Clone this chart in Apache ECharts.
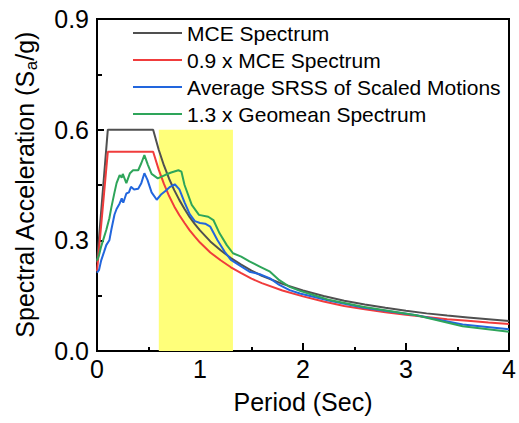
<!DOCTYPE html>
<html>
<head>
<meta charset="utf-8">
<script src="https://cdn.jsdelivr.net/npm/echarts@6/dist/echarts.min.js"></script>
<style>
  html, body { margin: 0; padding: 0; background: #fff; }
  #chart { width: 519px; height: 423px; }
</style>
</head>
<body>
<div id="chart"></div>
<script>
// Design spectra (MCE and 0.9 x MCE), sampled along period in seconds
const mceT  = [0, 0.105, 0.545, 0.6, 0.65, 0.7, 0.75, 0.8, 0.85, 0.9, 0.95, 1.0, 1.1, 1.2, 1.3, 1.4, 1.5, 1.6, 1.8, 2.0, 2.2, 2.4, 2.6, 2.8, 3.0, 3.2, 3.4, 3.6, 3.8, 4.0];
const mceSa = [0.24, 0.6, 0.6, 0.545, 0.503, 0.467, 0.436, 0.409, 0.385, 0.363, 0.344, 0.327, 0.297, 0.273, 0.252, 0.234, 0.218, 0.204, 0.182, 0.164, 0.149, 0.136, 0.126, 0.117, 0.109, 0.102, 0.096, 0.091, 0.086, 0.081];
const mce90Sa = [0.216, 0.54, 0.54, 0.491, 0.453, 0.420, 0.392, 0.368, 0.347, 0.327, 0.310, 0.294, 0.267, 0.246, 0.227, 0.211, 0.196, 0.184, 0.164, 0.148, 0.134, 0.122, 0.113, 0.105, 0.098, 0.092, 0.086, 0.082, 0.077, 0.073];

// Average SRSS spectrum of the scaled ground motions
const srssT  = [0, 0.02, 0.04, 0.07, 0.09, 0.12, 0.14, 0.17, 0.19, 0.22, 0.24, 0.255, 0.285, 0.31, 0.33, 0.36, 0.40, 0.43, 0.46, 0.49, 0.53, 0.58, 0.625, 0.67, 0.71, 0.755, 0.80, 0.85, 0.90, 0.95, 1.0, 1.05, 1.1, 1.17, 1.24, 1.30, 1.40, 1.48, 1.58, 1.68, 1.77, 1.87, 1.97, 2.1, 2.26, 2.58, 3.1, 3.55, 4.0];
const srssSa = [0.212, 0.22, 0.245, 0.27, 0.287, 0.30, 0.33, 0.37, 0.385, 0.40, 0.414, 0.402, 0.427, 0.43, 0.445, 0.438, 0.44, 0.455, 0.482, 0.464, 0.43, 0.41, 0.425, 0.435, 0.445, 0.452, 0.438, 0.403, 0.371, 0.352, 0.347, 0.345, 0.337, 0.30, 0.269, 0.247, 0.229, 0.215, 0.208, 0.197, 0.179, 0.165, 0.156, 0.147, 0.136, 0.118, 0.097, 0.072, 0.059];

// 1.3 x geometric-mean spectrum
const geoT  = [0, 0.02, 0.04, 0.07, 0.09, 0.12, 0.14, 0.17, 0.19, 0.22, 0.24, 0.25, 0.285, 0.32, 0.35, 0.40, 0.43, 0.46, 0.495, 0.53, 0.59, 0.66, 0.72, 0.79, 0.82, 0.85, 0.92, 0.99, 1.08, 1.13, 1.19, 1.26, 1.32, 1.40, 1.48, 1.58, 1.68, 1.77, 1.87, 1.97, 2.1, 2.26, 2.58, 3.1, 3.55, 4.0];
const geoSa = [0.245, 0.26, 0.283, 0.31, 0.328, 0.36, 0.39, 0.43, 0.455, 0.477, 0.47, 0.48, 0.455, 0.482, 0.49, 0.49, 0.509, 0.531, 0.504, 0.48, 0.468, 0.477, 0.484, 0.49, 0.486, 0.45, 0.396, 0.369, 0.364, 0.355, 0.319, 0.287, 0.265, 0.256, 0.243, 0.229, 0.215, 0.192, 0.174, 0.163, 0.152, 0.138, 0.12, 0.097, 0.067, 0.052];

// Highlighted period range of interest
const bandPeriod = [0.6, 1.32];
const bandTop = 0.6;

const seriesNames = ['MCE Spectrum', '0.9 x MCE Spectrum', 'Average SRSS of Scaled Motions', '1.3 x Geomean Spectrum'];
const seriesColors = ['#505050', '#f03c3c', '#2266dd', '#2ea55a'];

const FONT = '"Liberation Sans", Arial, sans-serif';
const pairs = (xs, ys) => xs.map((x, i) => [x, ys[i]]);

const chart = echarts.init(document.getElementById('chart'), null, { renderer: 'svg' });

function lineSeries(idx, data, extra) {
  return Object.assign({
    name: seriesNames[idx],
    type: 'line',
    data: data,
    symbol: 'none',
    smooth: false,
    lineStyle: { color: seriesColors[idx], width: 2 },
    itemStyle: { color: seriesColors[idx] },
    z: 3 + idx
  }, extra || {});
}

chart.setOption({
  animation: false,
  backgroundColor: '#fff',
  grid: {
    left: 97, right: 10, top: 19, bottom: 72,
    show: true, borderColor: '#000', borderWidth: 2, backgroundColor: 'transparent'
  },
  legend: {
    orient: 'vertical',
    left: 128, top: 17,
    icon: 'rect',
    itemWidth: 49, itemHeight: 2, itemGap: 5,
    textStyle: { fontFamily: FONT, fontSize: 21, color: '#000', lineHeight: 22 },
    data: seriesNames
  },
  xAxis: {
    type: 'value', min: 0, max: 4, interval: 1,
    name: 'Period (Sec)', nameLocation: 'middle', nameGap: 38,
    nameTextStyle: { fontFamily: FONT, fontSize: 25, color: '#000' },
    axisLine: { show: true, lineStyle: { color: '#000', width: 2 } },
    axisTick: { show: true, inside: true, length: 8, lineStyle: { color: '#000', width: 2 } },
    minorTick: { show: true, splitNumber: 2, length: 4, lineStyle: { color: '#000', width: 2 } },
    axisLabel: { fontFamily: FONT, fontSize: 25, color: '#000', margin: 5 },
    splitLine: { show: false }
  },
  yAxis: {
    type: 'value', min: 0, max: 0.9, interval: 0.3,
    name: 'Spectral Acceleration (S{sub|a}/g)', nameLocation: 'middle', nameGap: 57,
    nameTextStyle: {
      fontFamily: FONT, fontSize: 25, color: '#000',
      rich: {
        sub: { fontFamily: FONT, fontSize: 17, color: '#000', verticalAlign: 'bottom', lineHeight: 31 }
      }
    },
    axisLine: { show: true, lineStyle: { color: '#000', width: 2 } },
    axisTick: { show: true, inside: true, length: 7, lineStyle: { color: '#000', width: 2 } },
    minorTick: { show: true, splitNumber: 2, length: 5, lineStyle: { color: '#000', width: 2 } },
    axisLabel: { fontFamily: FONT, fontSize: 25, color: '#000', margin: 8, formatter: v => v.toFixed(1) },
    splitLine: { show: false }
  },
  series: [
    lineSeries(0, pairs(mceT, mceSa), {
      markArea: {
        silent: true,
        itemStyle: { color: '#ffff7a' },
        data: [[{ coord: [bandPeriod[0], 0] }, { coord: [bandPeriod[1], bandTop] }]]
      }
    }),
    lineSeries(1, pairs(mceT, mce90Sa)),
    lineSeries(2, pairs(srssT, srssSa)),
    lineSeries(3, pairs(geoT, geoSa))
  ]
});
</script>
</body>
</html>
